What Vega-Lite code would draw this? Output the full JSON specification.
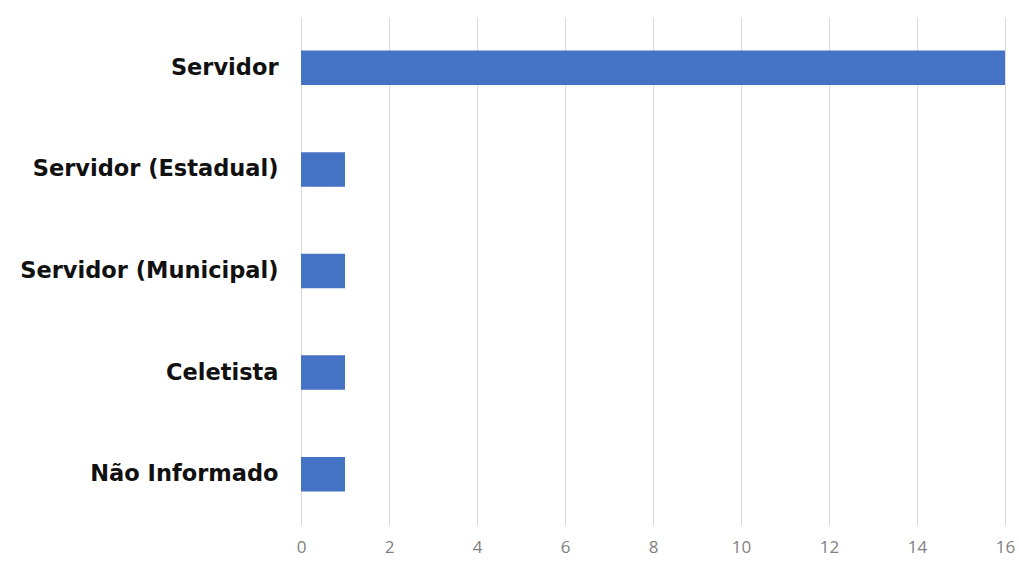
{
  "$schema": "https://vega.github.io/schema/vega-lite/v6.json",
  "autosize": {"type": "none"},
  "width": 704,
  "height": 508,
  "padding": {"left": 301, "top": 17, "right": 14, "bottom": 38},
  "background": "white",
  "data": {"values": [
    {"categoria": "Servidor", "valor": 16},
    {"categoria": "Servidor (Estadual)", "valor": 1},
    {"categoria": "Servidor (Municipal)", "valor": 1},
    {"categoria": "Celetista", "valor": 1},
    {"categoria": "Não Informado", "valor": 1}
  ]},
  "mark": {"type": "bar", "color": "#4472C4"},
  "encoding": {
    "y": {
      "field": "categoria", "type": "nominal", "sort": null,
      "scale": {"paddingInner": 0.66, "paddingOuter": 0.33},
      "axis": {"title": null, "domain": false, "ticks": false, "labelPadding": 23,
               "labelFont": "DejaVu Sans", "labelFontWeight": "bold", "labelFontSize": 22.5,
               "labelColor": "#111111", "labelLimit": 400}
    },
    "x": {
      "field": "valor", "type": "quantitative",
      "scale": {"domain": [0, 16], "nice": false},
      "axis": {"title": null, "values": [0,2,4,6,8,10,12,14,16], "domain": false, "ticks": false,
               "grid": true, "gridColor": "#d9d9d9", "gridWidth": 1, "labelPadding": 14,
               "labelFlush": false,
               "labelFont": "Open Sans", "labelFontSize": 17, "labelColor": "#7f7f7f"}
    }
  },
  "config": {"view": {"stroke": null}}
}
